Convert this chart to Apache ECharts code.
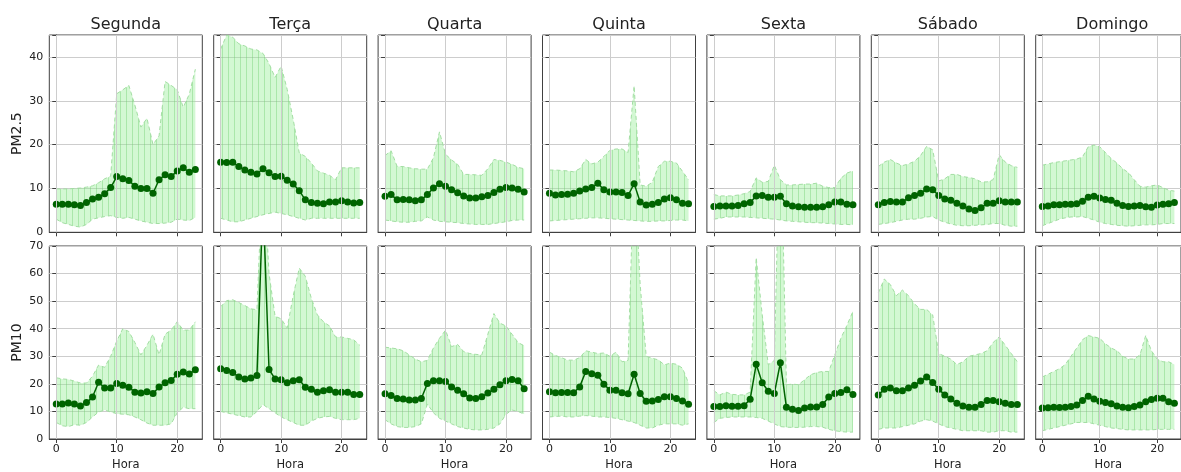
<!DOCTYPE html>
<html>
<head>
<meta charset="utf-8">
<script src="https://cdn.jsdelivr.net/npm/echarts@6/dist/echarts.min.js"></script>
<style>
  html, body { margin: 0; padding: 0; background: #ffffff; }
  #chart { width: 1181px; height: 472px; }
</style>
</head>
<body>
<div id="chart"></div>
<script>
// Hourly profiles of particulate matter by weekday: mean (line) and spread band.
const days = ['Segunda', 'Terça', 'Quarta', 'Quinta', 'Sexta', 'Sábado', 'Domingo'];
const hours = [0, 1, 2, 3, 4, 5, 6, 7, 8, 9, 10, 11, 12, 13, 14, 15, 16, 17, 18, 19, 20, 21, 22, 23];
const xTicks = [0, 10, 20];
const pollutants = ['PM2.5', 'PM10'];
const yMax = [45, 70];

const pm25Mean = [
  [6.4, 6.4, 6.4, 6.3, 6.1, 6.8, 7.6, 8.0, 8.8, 10.2, 12.7, 12.2, 11.8, 10.5, 10.0, 10.0, 8.9, 12.0, 13.1, 12.7, 14.0, 14.7, 13.7, 14.3],
  [16.0, 15.9, 16.0, 15.0, 14.2, 13.7, 13.3, 14.5, 13.6, 12.7, 12.8, 11.9, 11.0, 9.5, 7.4, 6.8, 6.6, 6.5, 6.9, 6.9, 7.2, 6.9, 6.7, 6.8],
  [8.2, 8.6, 7.4, 7.5, 7.4, 7.2, 7.4, 8.6, 10.1, 11.1, 10.5, 9.7, 9.0, 8.3, 7.8, 7.8, 8.1, 8.4, 9.1, 9.8, 10.2, 10.1, 9.8, 9.2],
  [8.9, 8.5, 8.6, 8.7, 8.9, 9.4, 9.9, 10.2, 11.2, 9.7, 9.2, 9.2, 9.1, 8.4, 11.1, 6.9, 6.2, 6.4, 6.8, 7.6, 7.9, 7.4, 6.6, 6.5],
  [5.9, 6.0, 6.0, 6.0, 6.1, 6.5, 6.8, 8.3, 8.4, 8.0, 8.0, 8.2, 6.5, 6.0, 5.8, 5.7, 5.7, 5.7, 5.8, 6.3, 6.9, 6.9, 6.4, 6.3],
  [6.3, 6.8, 7.0, 6.9, 6.9, 7.9, 8.4, 8.9, 9.9, 9.7, 8.4, 7.6, 7.3, 6.6, 6.0, 5.3, 5.0, 5.6, 6.6, 6.6, 7.2, 6.9, 6.9, 6.9],
  [5.9, 6.0, 6.3, 6.3, 6.4, 6.4, 6.5, 7.1, 8.0, 8.2, 7.8, 7.5, 7.3, 6.6, 6.1, 5.9, 6.0, 6.1, 5.8, 5.7, 6.2, 6.4, 6.5, 6.8]
];
const pm25Upper = [
  [9.9, 9.9, 9.9, 10.0, 10.1, 10.3, 10.6, 11.3, 12.2, 12.8, 31.6, 32.5, 33.5, 29.0, 24.0, 26.0, 20.0, 22.0, 34.4, 33.5, 32.5, 28.5, 31.5, 37.2],
  [41.8, 45.0, 44.5, 43.0, 42.5, 41.8, 41.6, 40.8, 38.5, 35.3, 37.9, 32.6, 25.7, 18.1, 17.3, 15.8, 14.0, 13.5, 13.0, 12.0, 14.7, 14.7, 14.7, 14.7],
  [17.5, 18.6, 15.0, 15.0, 14.7, 14.5, 14.4, 14.4, 17.0, 22.9, 17.8, 16.5, 15.5, 13.2, 13.2, 13.1, 13.0, 14.5, 16.6, 16.4, 16.0, 15.5, 14.8, 14.5],
  [14.2, 14.2, 14.1, 14.0, 13.8, 14.5, 16.6, 15.6, 16.0, 17.3, 18.7, 19.0, 19.0, 18.2, 33.4, 10.8, 10.5, 11.4, 15.0, 16.2, 16.2, 15.8, 13.9, 12.0],
  [8.6, 8.3, 8.3, 8.3, 8.5, 8.8, 9.3, 12.4, 11.4, 11.6, 15.3, 12.0, 10.8, 10.8, 10.9, 11.0, 11.0, 11.2, 10.5, 10.2, 10.2, 12.3, 13.5, 14.0],
  [15.0, 16.0, 16.6, 15.8, 15.2, 15.6, 16.2, 17.5, 19.6, 18.8, 11.7, 12.2, 13.2, 13.2, 12.7, 12.5, 12.2, 11.5, 11.5, 12.0, 17.7, 16.0, 15.2, 14.8],
  [15.3, 15.6, 15.9, 16.1, 16.3, 16.5, 16.7, 17.2, 19.5, 19.9, 19.5, 18.2, 16.8, 15.8, 14.5, 13.6, 12.0, 10.5, 10.3, 10.6, 10.8, 10.2, 9.6, 9.4]
];
const pm25Lower = [
  [3.0, 2.2, 1.8, 1.4, 1.2, 1.8, 3.0, 3.3, 3.6, 3.8, 3.4, 3.2, 3.4, 3.0, 2.6, 2.3, 2.0, 2.0, 2.1, 2.3, 3.0, 2.8, 2.7, 3.4],
  [3.2, 2.8, 2.4, 2.4, 2.8, 3.2, 3.6, 4.0, 4.3, 4.6, 4.3, 4.0, 3.6, 3.2, 2.8, 3.2, 3.2, 3.2, 3.2, 3.2, 3.2, 3.2, 3.2, 3.2],
  [2.8, 2.6, 2.4, 2.3, 2.3, 2.5, 2.6, 3.5, 2.8, 2.5, 2.4, 2.3, 2.2, 2.0, 1.9, 1.8, 1.8, 1.8, 2.0, 2.2, 2.4, 2.7, 2.8, 2.8],
  [2.6, 2.7, 2.8, 2.9, 3.0, 3.1, 3.2, 3.3, 3.3, 3.2, 3.1, 3.0, 2.9, 2.8, 2.7, 2.6, 2.5, 2.5, 2.6, 2.6, 2.7, 2.8, 2.8, 2.6],
  [3.0, 3.2, 3.5, 3.5, 3.5, 3.5, 3.4, 3.3, 3.2, 3.1, 3.0, 2.8, 2.6, 2.5, 2.4, 2.3, 2.2, 2.2, 2.1, 2.0, 1.9, 1.8, 1.8, 1.7],
  [1.8, 2.0, 2.2, 2.5, 2.8, 3.0, 3.0, 3.2, 3.5, 3.6, 2.8, 2.3, 1.9, 1.6, 1.5, 1.5, 1.6, 1.7, 1.8, 2.0, 2.0, 1.6, 1.4, 1.4],
  [1.5, 2.0, 2.5, 3.0, 3.3, 3.5, 3.5, 3.6, 3.2, 2.8, 2.3, 2.0, 1.8, 1.6, 1.5, 1.4, 1.5, 1.6, 1.7, 1.7, 1.8, 2.0, 2.0, 2.0]
];

const pm10Mean = [
  [12.7, 12.7, 13.1, 12.7, 12.0, 13.2, 15.2, 20.6, 18.5, 18.5, 20.1, 19.5, 18.8, 17.0, 16.7, 17.1, 16.5, 18.9, 20.4, 21.2, 23.5, 24.3, 23.6, 25.1],
  [25.5, 24.8, 24.1, 22.5, 21.8, 22.1, 23.0, 87.0, 25.2, 21.8, 21.5, 20.4, 21.1, 21.5, 18.8, 18.0, 17.0, 17.5, 17.9, 17.0, 17.0, 17.0, 16.1, 16.1],
  [16.4, 15.8, 14.7, 14.5, 14.1, 14.1, 14.7, 20.1, 21.1, 21.1, 20.9, 18.9, 17.7, 16.4, 14.9, 14.7, 15.3, 16.7, 18.0, 19.7, 21.1, 21.6, 21.1, 18.2],
  [17.1, 16.8, 16.9, 16.9, 16.8, 18.9, 24.5, 23.7, 23.1, 19.9, 17.7, 17.7, 16.8, 16.4, 23.5, 16.5, 13.7, 13.8, 14.3, 15.3, 15.3, 14.7, 13.8, 12.6],
  [11.8, 11.8, 12.1, 11.9, 11.9, 12.1, 14.4, 27.1, 20.4, 17.3, 16.5, 27.7, 11.5, 10.8, 10.3, 11.2, 11.6, 11.6, 12.5, 15.2, 16.5, 16.9, 17.9, 16.1],
  [16.0, 18.0, 18.5, 17.5, 17.5, 18.5, 19.5, 21.0, 22.5, 20.5, 18.0, 16.0, 14.5, 13.0, 12.0, 11.5, 11.5, 12.5, 14.0, 14.0, 13.5, 13.0, 12.5, 12.5],
  [11.2, 11.3, 11.5, 11.4, 11.5, 11.8, 12.3, 14.0, 15.5, 14.5, 13.7, 13.2, 12.8, 12.0, 11.5, 11.3, 11.8, 12.3, 13.5, 14.3, 14.8, 14.8, 13.5, 13.0]
];
const pm10Upper = [
  [22.2, 21.8, 21.6, 21.0, 20.3, 20.3, 22.8, 26.8, 26.0, 30.0, 35.5, 40.0, 39.0, 35.0, 30.5, 34.0, 38.0, 30.5, 38.0, 39.5, 42.5, 39.5, 39.5, 42.5],
  [48.0, 50.2, 50.5, 49.5, 48.4, 47.2, 46.9, 100.0, 60.0, 44.5, 43.6, 40.3, 52.0, 62.0, 59.0, 51.0, 45.0, 42.5, 41.0, 37.0, 37.0, 36.5, 36.0, 34.0],
  [33.3, 33.0, 32.7, 32.0, 30.5, 29.0, 28.0, 28.5, 33.0, 36.5, 39.5, 33.5, 34.3, 31.7, 31.0, 30.7, 30.5, 38.0, 45.5, 42.0, 41.0, 38.0, 35.0, 33.8],
  [31.5, 30.3, 29.5, 28.6, 28.6, 29.5, 32.0, 31.5, 31.0, 31.2, 30.0, 31.5, 28.0, 28.5, 100.0, 56.0, 30.0, 29.3, 28.7, 26.9, 27.5, 27.1, 25.7, 20.3],
  [17.5, 16.0, 17.0, 16.2, 16.0, 16.0, 17.0, 65.8, 45.0, 26.9, 28.5, 120.0, 19.7, 19.9, 19.7, 21.5, 23.3, 24.1, 24.5, 24.5, 30.5, 36.5, 41.2, 46.3],
  [53.0, 58.0, 56.0, 52.0, 54.0, 52.0, 49.0, 47.0, 47.0, 45.0, 31.0, 30.0, 29.0, 27.0, 28.0, 30.0, 30.5, 31.0, 32.0, 35.0, 37.0, 34.0, 31.0, 28.0],
  [22.5, 23.5, 24.5, 25.5, 27.0, 30.0, 33.0, 36.0, 37.5, 37.0, 36.5, 34.5, 33.0, 32.0, 30.0, 29.0, 29.0, 30.5, 37.5, 32.0, 29.0, 28.0, 28.0, 27.0]
];
const pm10Lower = [
  [6.0, 4.8, 4.5, 5.2, 5.0, 6.0, 8.0, 9.8, 10.5, 9.8, 9.2, 9.0, 8.8, 8.0, 7.0, 5.8, 5.0, 5.0, 5.0, 5.5, 9.5, 11.5, 11.0, 11.0],
  [10.0, 9.5, 9.0, 8.5, 8.0, 8.0, 10.0, 12.5, 11.0, 9.5, 8.0, 7.0, 6.0, 5.0, 5.0, 6.5, 7.5, 8.0, 8.2, 7.5, 7.0, 7.0, 7.0, 7.5],
  [7.0, 5.5, 4.5, 4.2, 4.2, 4.5, 5.5, 12.7, 9.5, 7.5, 6.5, 5.5, 4.5, 4.0, 3.5, 3.3, 3.3, 3.5, 4.0, 5.5, 9.0, 10.5, 10.0, 9.0],
  [8.0, 8.2, 8.3, 8.0, 8.0, 8.3, 8.5, 8.3, 8.0, 8.0, 7.8, 7.5, 7.0, 6.5, 6.0, 5.0, 4.0, 4.0, 5.0, 5.5, 5.5, 5.5, 5.0, 5.5],
  [6.0, 7.5, 7.8, 8.0, 8.0, 8.0, 8.0, 7.8, 7.5, 6.5, 5.5, 4.5, 4.3, 4.2, 4.2, 4.3, 4.5, 4.5, 4.3, 3.5, 3.0, 2.7, 2.5, 2.5],
  [3.5, 4.0, 4.0, 4.0, 4.5, 5.0, 5.5, 6.5, 7.0, 6.5, 5.5, 4.5, 4.0, 3.5, 3.0, 3.0, 3.0, 3.0, 2.5, 2.5, 3.0, 3.0, 2.5, 2.5],
  [3.0, 3.5, 4.0, 4.5, 5.0, 5.5, 6.0, 6.0, 6.0, 5.5, 5.0, 4.5, 4.0, 3.8, 3.5, 3.3, 3.3, 3.3, 3.3, 3.3, 3.5, 3.5, 3.5, 3.5]
];

const means = [pm25Mean, pm10Mean];
const uppers = [pm25Upper, pm10Upper];
const lowers = [pm25Lower, pm10Lower];

// Panel geometry (pixels)
const panelLeft0 = 49.3, panelStep = 164.4, panelWidth = 153;
const rowTop = [35, 246], rowHeight = [197.3, 195.3];

const FONT = 'DejaVu Sans';
const TEXT = '#222222';
const FRAME = '#404040';
const GRIDLINE = '#cdcdcd';
const MEAN_COLOR = '#006400';
const EDGE_COLOR = '#a3dea3';

// Vertical hatch fill for the spread band
function hatchPattern() {
  const c = document.createElement('canvas');
  c.width = 6; c.height = 6;
  const g = c.getContext('2d');
  g.fillStyle = 'rgba(144, 238, 144, 0.40)';
  g.fillRect(0, 0, 6, 6);
  g.fillStyle = 'rgba(110, 205, 110, 0.40)';
  g.fillRect(0, 0, 1, 6);
  return c;
}
const bandFill = { image: hatchPattern(), repeat: 'repeat' };

const pairs = (vals) => hours.map((h, i) => [h, vals[i]]);

// Band between lower and upper profiles, drawn as one polygon through the axis scales
function bandItem(lo, up) {
  return function (params, api) {
    if (params.dataIndex !== 0) return null;
    const top = hours.map((h, i) => api.coord([h, up[i]]));
    const bottom = hours.map((h, i) => api.coord([h, lo[i]])).reverse();
    return {
      type: 'polygon',
      shape: { points: top.concat(bottom) },
      style: { fill: bandFill, stroke: null },
      silent: true
    };
  };
}

const grid = [], xAxis = [], yAxis = [], series = [], graphic = [];

for (let r = 0; r < 2; r++) {
  for (let c = 0; c < 7; c++) {
    const gi = r * 7 + c;
    const left = panelLeft0 + c * panelStep;
    grid.push({
      left: left, top: rowTop[r], width: panelWidth, height: rowHeight[r],
      show: true, borderColor: FRAME, borderWidth: 1, backgroundColor: 'transparent',
      containLabel: false
    });
    xAxis.push({
      gridIndex: gi, type: 'value', min: -1.15, max: 24.15,
      axisLine: { show: true, onZero: false, lineStyle: { color: FRAME, width: 1 } },
      axisTick: { show: true, inside: false, length: 4, customValues: xTicks, lineStyle: { color: FRAME } },
      axisLabel: { show: r === 1, customValues: xTicks, fontSize: 11, color: TEXT, fontFamily: FONT, margin: 5 },
      splitLine: { show: false },
      name: r === 1 ? 'Hora' : '', nameLocation: 'middle', nameGap: 20,
      nameTextStyle: { fontSize: 11.5, color: TEXT, fontFamily: FONT }
    });
    yAxis.push({
      gridIndex: gi, type: 'value', min: 0, max: yMax[r], interval: 10,
      axisLine: { show: true, lineStyle: { color: FRAME, width: 1 } },
      axisTick: { show: true, inside: false, length: 4, lineStyle: { color: FRAME } },
      axisLabel: {
        show: c === 0, fontSize: 11, color: TEXT, fontFamily: FONT, margin: 6,
        formatter: (v) => (v % 10 === 0 ? String(v) : '')
      },
      splitLine: { show: true, lineStyle: { color: GRIDLINE, width: 1 } },
      name: c === 0 ? pollutants[r] : '', nameLocation: 'middle', nameGap: 25, nameRotate: 90,
      nameTextStyle: { fontSize: 14, color: TEXT, fontFamily: FONT }
    });

    const lo = lowers[r][c];
    const up = uppers[r][c];

    // spread band (with the vertical hour gridlines at the labelled ticks)
    series.push({
      type: 'custom', xAxisIndex: gi, yAxisIndex: gi, clip: true, silent: true, z: 1,
      data: hours.map((h, i) => [h, lo[i], up[i]]),
      encode: { x: 0, y: [1, 2] },
      renderItem: bandItem(lo, up),
      markLine: {
        silent: true, symbol: 'none', label: { show: false }, animation: false,
        lineStyle: { color: GRIDLINE, width: 1, type: 'solid' },
        data: xTicks.map((t) => ({ xAxis: t }))
      }
    });
    // dashed band edges
    [lo, up].forEach((edge) => {
      series.push({
        type: 'line', xAxisIndex: gi, yAxisIndex: gi,
        data: pairs(edge), symbol: 'none', silent: true, clip: true, z: 2,
        lineStyle: { color: EDGE_COLOR, width: 1, type: [4, 3] }
      });
    });
    // mean profile
    series.push({
      type: 'line', xAxisIndex: gi, yAxisIndex: gi,
      data: pairs(means[r][c]), symbol: 'circle', symbolSize: 7, showAllSymbol: true, clip: true, z: 3,
      itemStyle: { color: MEAN_COLOR, borderWidth: 0 },
      lineStyle: { color: MEAN_COLOR, width: 1.5 }
    });

    if (r === 0) {
      graphic.push({
        type: 'text', x: left + panelWidth / 2, y: 25,
        style: { text: days[c], fill: TEXT, font: '16px "' + FONT + '"', align: 'center', verticalAlign: 'middle' }
      });
    }
  }
}

const chart = echarts.init(document.getElementById('chart'), null, { renderer: 'canvas' });
chart.setOption({
  animation: false,
  backgroundColor: '#ffffff',
  textStyle: { fontFamily: FONT },
  grid, xAxis, yAxis, series, graphic
});
</script>
</body>
</html>
